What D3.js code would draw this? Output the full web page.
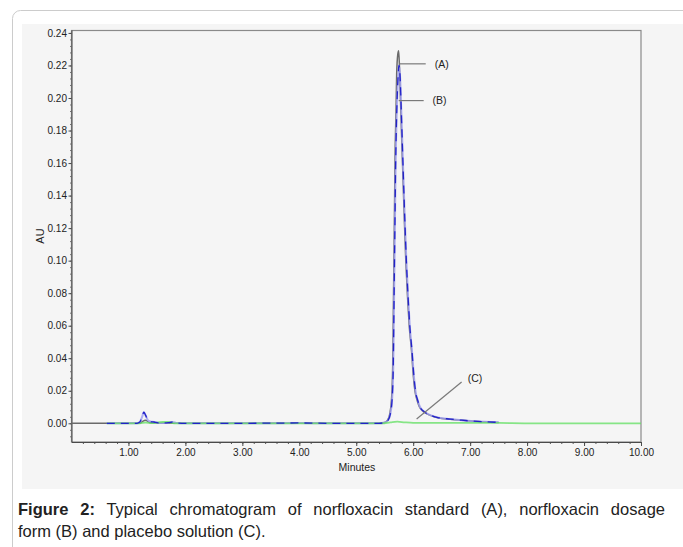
<!DOCTYPE html>
<html>
<head>
<meta charset="utf-8">
<script src="https://cdn.jsdelivr.net/npm/d3@7"></script>
<style>
    body { margin: 0; background: #fff; }
    #wrap { position: relative; width: 683px; height: 547px; overflow: hidden; }
    svg { position: absolute; left: 0; top: 0; }
    .caption { position: absolute; left: 18px; width: 647px; font-family: "Liberation Sans", Arial, sans-serif;
        font-size: 16.5px; color: #222; line-height: 22px; white-space: nowrap; }
    .line1 { top: 498px; text-align: justify; text-align-last: justify; }
    .line2 { top: 520px; }
</style>
</head>
<body>
<div id="wrap">
    <svg id="chart" width="683" height="547"></svg>
    <div class="caption line1"><b>Figure 2:</b> Typical chromatogram of norfloxacin standard (A), norfloxacin dosage</div>
    <div class="caption line2">form (B) and placebo solution (C).</div>
</div>
<script>
'use strict';

// (A) norfloxacin standard
const stdTime = [0, 0.62, 1.2, 1.25, 1.3, 1.38, 2.0, 3.0, 4.0, 5.0, 5.40, 5.50, 5.55, 5.59, 5.62, 5.64, 5.655, 5.67,
    5.68, 5.70, 5.71, 5.73, 5.745, 5.76, 5.78, 5.81, 5.84, 5.87, 5.90, 5.93, 5.97, 6.00, 6.03, 6.07, 6.11, 6.18,
    6.29, 6.45, 6.65, 6.85, 7.05, 7.25, 7.50];
const stdAU = [0, 0, 0, 0.0012, 0.0018, 0.0004, 0, 0, 0, 0, 0, 0.0005, 0.002, 0.006, 0.015, 0.035, 0.08, 0.125,
    0.16, 0.195, 0.215, 0.227, 0.229, 0.218, 0.195, 0.162, 0.13, 0.10, 0.078, 0.060, 0.045, 0.030, 0.020, 0.014, 0.010, 0.0072,
    0.005, 0.0032, 0.0025, 0.0018, 0.0012, 0.0008, 0.0005];

// (B) norfloxacin dosage form
const dosTime = [0.62, 1.15, 1.20, 1.24, 1.27, 1.30, 1.34, 1.38, 1.45, 1.52, 1.60, 1.70, 1.78, 1.84, 2.0, 3.0, 4.0,
    4.5, 5.40, 5.50, 5.56, 5.60, 5.63, 5.65, 5.665, 5.68, 5.69, 5.71, 5.73, 5.75, 5.77, 5.79, 5.82, 5.85, 5.88, 5.91,
    5.94, 5.98, 6.01, 6.04, 6.08, 6.12, 6.19, 6.30, 6.45, 6.65, 6.85, 7.05, 7.25, 7.50];
const dosAU = [0, 0, 0.0008, 0.004, 0.0068, 0.005, 0.002, 0.0012, 0.0008, 0.0003, 0.0002, 0.0004, 0.0008, 0.0002, 0, 0, 0.0002,
    0, 0, 0.0005, 0.002, 0.006, 0.015, 0.035, 0.08, 0.125, 0.155, 0.19, 0.21, 0.220, 0.213, 0.193, 0.160, 0.128, 0.10, 0.078,
    0.060, 0.044, 0.030, 0.020, 0.014, 0.010, 0.0072, 0.005, 0.0034, 0.0026, 0.0019, 0.0013, 0.0009, 0.0006];

// (C) placebo solution
const plaTime = [0.62, 1.2, 1.3, 1.4, 1.6, 1.7, 1.8, 3.0, 5.45, 5.6, 5.72, 5.85, 6.0, 7.5, 8.0, 10.0];
const plaAU = [0, 0, 0.0005, 0.0001, 0.0008, 0.0008, 0, 0, 0, 0.0006, 0.001, 0.0006, 0.0003, 0.0002, 0, 0];

// axes
const xTicks = [1, 2, 3, 4, 5, 6, 7, 8, 9, 10];
const yTicks = [0, 0.02, 0.04, 0.06, 0.08, 0.10, 0.12, 0.14, 0.16, 0.18, 0.20, 0.22, 0.24];

// peak labels: name, leader start / end, text anchor (time, AU)
const labelNames = ['(A)', '(B)', '(C)'];
const labelFrom = [[5.763, 0.221], [5.745, 0.1984], [6.06, 0.0026]];
const labelTo = [[6.22, 0.221], [6.184, 0.1984], [6.85, 0.0254]];
const labelAt = [[6.377, 0.221], [6.34, 0.1984], [6.956, 0.0279]];

(function() {
    const svg = d3.select('#chart');
    const font = '"Liberation Sans", Arial, sans-serif';

    const x = d3.scaleLinear().domain([0, 10]).range([71.5, 641]);
    const y = d3.scaleLinear().domain([-0.0115, 0.2418]).range([442, 30]);

    // card + panel
    svg.append('rect')
        .attr('x', 12.5).attr('y', 10.5)
        .attr('width', 720).attr('height', 600)
        .attr('rx', 8)
        .attr('fill', '#fff')
        .attr('stroke', '#cccccc');

    svg.append('rect')
        .attr('x', 22).attr('y', 24)
        .attr('width', 661).attr('height', 465)
        .attr('fill', '#f5f5f5');

    // frame
    svg.append('rect')
        .attr('x', 71.5).attr('y', 30.5)
        .attr('width', 569.5).attr('height', 411.5)
        .attr('fill', 'none')
        .attr('stroke', '#8a8a8a')
        .attr('stroke-width', 1.2);

    // minor ticks
    svg.append('g')
        .attr('transform', 'translate(0,442)')
        .call(d3.axisBottom(x).tickValues(d3.range(0.2, 10, 0.2)).tickSize(2).tickSizeOuter(0).tickFormat(''))
        .call(g => g.selectAll('line').attr('stroke', '#555'))
        .select('.domain').remove();

    svg.append('g')
        .attr('transform', 'translate(71.5,0)')
        .call(d3.axisLeft(y).tickValues(d3.range(-0.008, 0.2401, 0.004)).tickSize(1.5).tickSizeOuter(0).tickFormat(''))
        .call(g => g.selectAll('line').attr('stroke', '#777'))
        .select('.domain').remove();

    // major axes
    const xAxis = svg.append('g')
        .attr('transform', 'translate(0,442)')
        .call(d3.axisBottom(x).tickValues(xTicks).tickSize(4).tickPadding(3).tickSizeOuter(0)
            .tickFormat(d3.format('.2f')));

    const yAxis = svg.append('g')
        .attr('transform', 'translate(71.5,0)')
        .call(d3.axisLeft(y).tickValues(yTicks).tickSize(3).tickPadding(1.5).tickSizeOuter(0)
            .tickFormat(d3.format('.2f')));

    [xAxis, yAxis].forEach(g => {
        g.select('.domain').attr('stroke', '#4a4a4a');
        g.selectAll('line').attr('stroke', '#4a4a4a');
        g.selectAll('text')
            .attr('font-family', font)
            .attr('font-size', '10px')
            .attr('fill', '#222');
    });

    svg.append('text')
        .attr('x', 357).attr('y', 471)
        .attr('text-anchor', 'middle')
        .attr('font-family', font)
        .attr('font-size', '10.5px')
        .attr('fill', '#222')
        .text('Minutes');

    svg.append('text')
        .attr('transform', 'translate(44,236) rotate(-90)')
        .attr('text-anchor', 'middle')
        .attr('font-family', font)
        .attr('font-size', '11px')
        .attr('fill', '#222')
        .text('AU');

    // traces
    const line = d3.line()
        .x(d => x(d[0]))
        .y(d => y(d[1]))
        .curve(d3.curveMonotoneX);

    const std = stdTime.map((t, i) => [t, stdAU[i]]);
    const dos = dosTime.map((t, i) => [t, dosAU[i]]);
    const pla = plaTime.map((t, i) => [t, plaAU[i]]);

    svg.append('path')
        .attr('d', line(std))
        .attr('fill', 'none')
        .attr('stroke', '#6a6a6a')
        .attr('stroke-width', 1.5);

    svg.append('path')
        .attr('d', line(dos))
        .attr('fill', 'none')
        .attr('stroke', '#9c9cf0')
        .attr('stroke-opacity', 0.8)
        .attr('stroke-width', 2);

    svg.append('path')
        .attr('d', line(pla))
        .attr('fill', 'none')
        .attr('stroke', '#66e066')
        .attr('stroke-opacity', 0.78)
        .attr('stroke-width', 1.8);

    svg.append('path')
        .attr('d', line(dos))
        .attr('fill', 'none')
        .attr('stroke', '#2222c8')
        .attr('stroke-width', 1.3)
        .attr('stroke-dasharray', '8,6');

    // peak labels
    labelNames.forEach((name, i) => {
        svg.append('line')
            .attr('x1', x(labelFrom[i][0])).attr('y1', y(labelFrom[i][1]))
            .attr('x2', x(labelTo[i][0])).attr('y2', y(labelTo[i][1]))
            .attr('stroke', '#7a7a7a')
            .attr('stroke-width', 1.2);

        svg.append('text')
            .attr('x', x(labelAt[i][0]))
            .attr('y', y(labelAt[i][1]))
            .attr('dy', '0.35em')
            .attr('font-family', font)
            .attr('font-size', '10.5px')
            .attr('fill', '#222')
            .text(name);
    });
}());
</script>
</body>
</html>
